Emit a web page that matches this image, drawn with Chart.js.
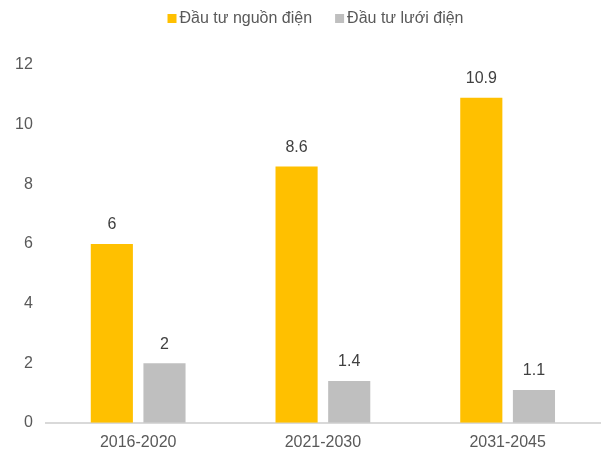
<!DOCTYPE html>
<html>
<head>
<meta charset="utf-8">
<script src="https://cdn.jsdelivr.net/npm/chart.js@4"></script>
<style>
  html, body { margin: 0; padding: 0; background: #fff; }
  #wrap { width: 601px; height: 451px; }
</style>
</head>
<body>
<div id="wrap"><canvas id="investChart" width="601" height="451"></canvas></div>
<script>
const periods = ["2016-2020", "2021-2030", "2031-2045"];
const sourceInvest = [6, 8.6, 10.9];
const gridInvest = [2, 1.4, 1.1];
const seriesNames = ["Đầu tư nguồn điện", "Đầu tư lưới điện"];
const seriesColors = ["#FFC000", "#BFBFBF"];

const FONT = "'Liberation Sans', Arial, sans-serif";

// value above each bar
const valueLabels = {
  id: "valueLabels",
  afterDatasetsDraw(chart) {
    const ctx = chart.ctx;
    ctx.save();
    ctx.font = "16px " + FONT;
    ctx.fillStyle = "#404040";
    ctx.textAlign = "center";
    ctx.textBaseline = "middle";
    chart.data.datasets.forEach((ds, i) => {
      chart.getDatasetMeta(i).data.forEach((bar, j) => {
        ctx.fillText(String(ds.data[j]), bar.x, bar.y - 19);
      });
    });
    ctx.restore();
  }
};

// small legend with a tight box/text gap, like the Excel one
const topLegend = {
  id: "topLegend",
  afterDraw(chart) {
    const ctx = chart.ctx;
    ctx.save();
    ctx.font = "16px " + FONT;
    const box = 9, gap = 3, between = 23;
    const widths = seriesNames.map(n => box + gap + ctx.measureText(n).width);
    const total = widths.reduce((a, b) => a + b, 0) + between * (widths.length - 1);
    let x = chart.width / 2 + 15 - total / 2;
    const y = 18;
    seriesNames.forEach((n, i) => {
      ctx.fillStyle = seriesColors[i];
      ctx.fillRect(x, y - 4, box, box);
      ctx.fillStyle = "#595959";
      ctx.textAlign = "left";
      ctx.textBaseline = "middle";
      ctx.fillText(n, x + box + gap, y + 1);
      x += widths[i] + between;
    });
    ctx.restore();
  }
};

new Chart(document.getElementById("investChart"), {
  type: "bar",
  data: {
    labels: periods,
    datasets: [
      { label: seriesNames[0], data: sourceInvest, backgroundColor: seriesColors[0] },
      { label: seriesNames[1], data: gridInvest, backgroundColor: seriesColors[1] }
    ]
  },
  options: {
    responsive: false,
    animation: false,
    devicePixelRatio: 1,
    layout: { padding: { left: 2, right: 1, top: 65, bottom: -11 } },
    datasets: {
      bar: { categoryPercentage: 0.57, barPercentage: 0.8 }
    },
    plugins: {
      legend: { display: false },
      tooltip: { enabled: false }
    },
    scales: {
      x: {
        grid: { display: false, drawTicks: false },
        border: { color: "#D9D9D9", width: 2 },
        ticks: {
          color: "#595959",
          padding: 10,
          font: { family: FONT, size: 16 }
        }
      },
      y: {
        min: 0,
        max: 12,
        grid: { display: false, drawTicks: false },
        border: { display: false },
        ticks: {
          stepSize: 2,
          color: "#595959",
          padding: 13,
          font: { family: FONT, size: 16 }
        }
      }
    }
  },
  plugins: [valueLabels, topLegend]
});
</script>
</body>
</html>
